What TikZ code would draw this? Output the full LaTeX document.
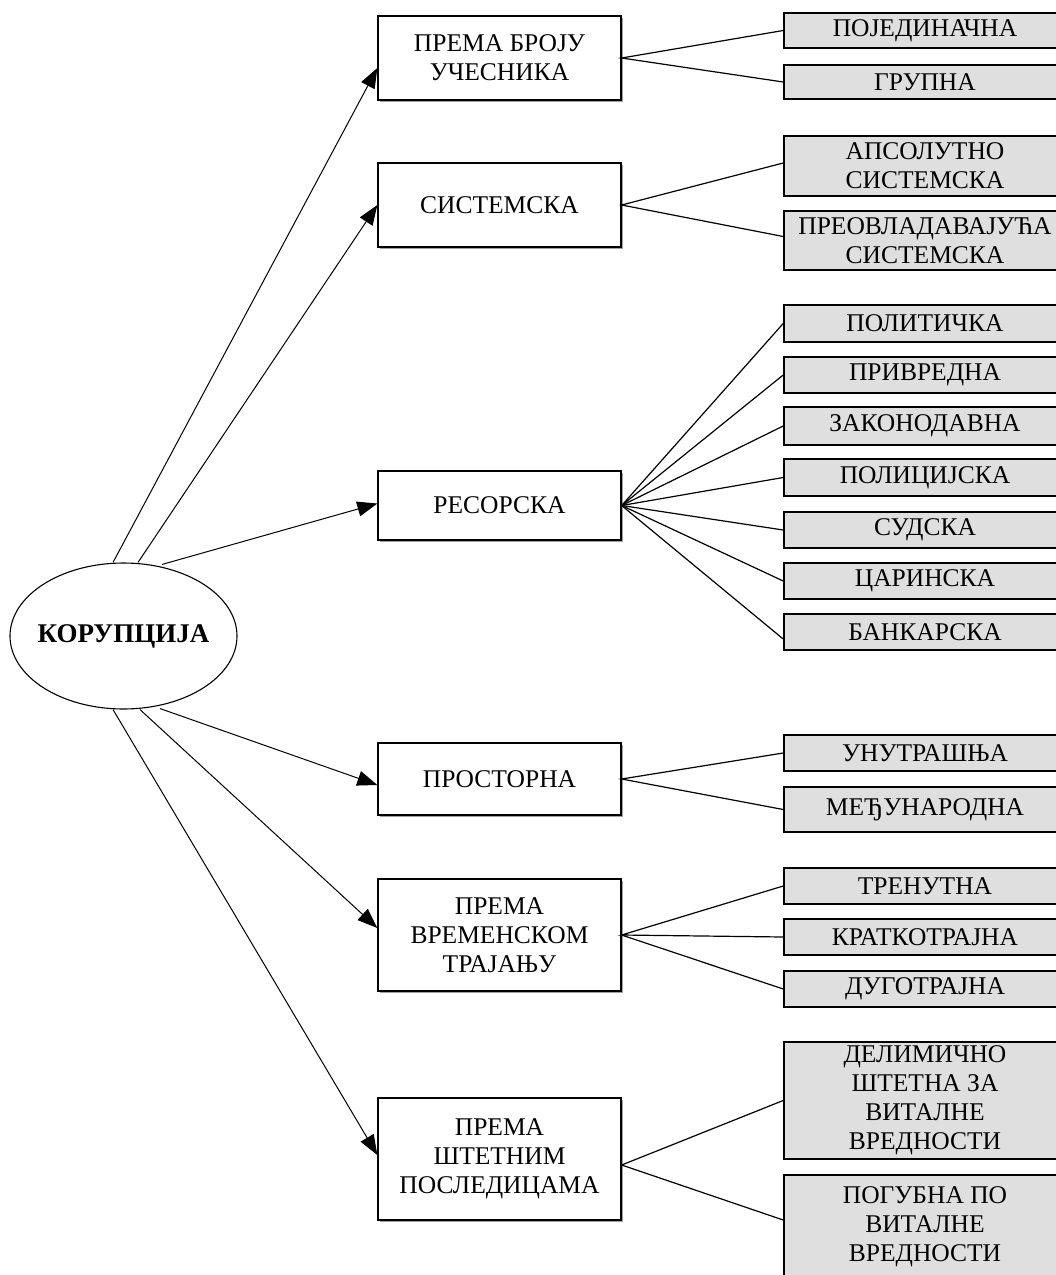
\documentclass[tikz,border=0pt]{standalone}
\usepackage{fontspec}
\setmainfont{Liberation Serif}
\usetikzlibrary{arrows.meta,shapes.geometric,shadows}
\definecolor{boxgray}{RGB}{223,223,223}
\definecolor{shadowgray}{RGB}{160,160,160}
\tikzset{
  midbox/.style={draw, line width=1.3pt, fill=white, minimum width=243pt, inner sep=2pt,
    align=center, font=\fontsize{25.5}{29}\selectfont,
    drop shadow={shadow xshift=1.6pt, shadow yshift=-1.6pt, fill=shadowgray, opacity=1}},
  subbox/.style={draw, line width=1.6pt, fill=boxgray, minimum width=282pt, inner sep=2pt,
    align=center, font=\fontsize{25.5}{29}\selectfont},
  conn/.style={line width=1.2pt},
  arr/.style={line width=1pt, -{Triangle[length=20pt,width=15pt]}},
}
\begin{document}
\begin{tikzpicture}[x=1pt,y=-1pt]
\useasboundingbox (0,0) rectangle (1056,1275);
\clip (0,0) rectangle (1056,1275);

% central ellipse
\node[draw, ellipse, line width=1.1pt, minimum width=227pt, minimum height=146pt,
  inner xsep=-8pt, inner ysep=0pt,
  font=\bfseries\fontsize{27}{32}\selectfont] (kor) at (123.5,636) {КОРУПЦИЈА};

% middle boxes
\node[midbox, minimum height=84pt]  (m1) at (499.5,58)   {ПРЕМА БРОЈУ\\УЧЕСНИКА};
\node[midbox, minimum height=84pt]  (m2) at (499.5,205)  {СИСТЕМСКА};
\node[midbox, minimum height=69pt]  (m3) at (499.5,505.5){РЕСОРСКА};
\node[midbox, minimum height=72pt]  (m4) at (499.5,779)  {ПРОСТОРНА};
\node[midbox, minimum height=112pt] (m5) at (499.5,935)  {ПРЕМА\\ВРЕМЕНСКОМ\\ТРАЈАЊУ};
\node[midbox, minimum height=122pt] (m6) at (499.5,1159) {ПРЕМА\\ШТЕТНИМ\\ПОСЛЕДИЦАМА};

% right boxes
\node[subbox, minimum height=35pt]  (r1)  at (925,30.5)  {ПОЈЕДИНАЧНА};
\node[subbox, minimum height=34pt]  (r2)  at (925,82)    {ГРУПНА};
\node[subbox, minimum height=60pt]  (r3)  at (925,166)   {АПСОЛУТНО\\СИСТЕМСКА};
\node[subbox, minimum height=59pt]  (r4)  at (925,240.5) {ПРЕОВЛАДАВАЈУЋА\\СИСТЕМСКА};
\node[subbox, minimum height=37pt]  (r5)  at (925,323.5) {ПОЛИТИЧКА};
\node[subbox, minimum height=36pt]  (r6)  at (925,375)   {ПРИВРЕДНА};
\node[subbox, minimum height=38pt]  (r7)  at (925,426)   {ЗАКОНОДАВНА};
\node[subbox, minimum height=37pt]  (r8)  at (925,477.5) {ПОЛИЦИЈСКА};
\node[subbox, minimum height=36pt]  (r9)  at (925,530)   {СУДСКА};
\node[subbox, minimum height=36pt]  (r10) at (925,581)   {ЦАРИНСКА};
\node[subbox, minimum height=36pt]  (r11) at (925,632)   {БАНКАРСКА};
\node[subbox, minimum height=36pt]  (r12) at (925,753)   {УНУТРАШЊА};
\node[subbox, minimum height=45pt]  (r13) at (925,809.5) {МЕЂУНАРОДНА};
\node[subbox, minimum height=36pt]  (r14) at (925,886)   {ТРЕНУТНА};
\node[subbox, minimum height=36pt]  (r15) at (925,937)   {КРАТКОТРАЈНА};
\node[subbox, minimum height=36pt]  (r16) at (925,989)   {ДУГОТРАЈНА};
\node[subbox, minimum height=117pt] (r17) at (925,1100.5){ДЕЛИМИЧНО\\ШТЕТНА ЗА\\ВИТАЛНЕ\\ВРЕДНОСТИ};
\node[subbox, minimum height=104pt] (r18) at (925,1227)  {ПОГУБНА ПО\\ВИТАЛНЕ\\ВРЕДНОСТИ};

% start points on the ellipse
\coordinate (t1) at ([xshift=-10.5pt]kor.north);
\coordinate (t2) at ([xshift=14.5pt]kor.north);
\coordinate (t3) at ([xshift=38.5pt,yshift=-2pt]kor.north);
\coordinate (b1) at ([xshift=-10.5pt]kor.south);
\coordinate (b2) at ([xshift=16.5pt]kor.south);
\coordinate (b3) at ([xshift=36.5pt,yshift=1pt]kor.south);

% arrows from the ellipse
\draw[arr] (t1) -- ([yshift=-10pt]m1.west);
\draw[arr] (t2) -- (m2.west);
\draw[arr] (t3) -- ([yshift=2pt]m3.west);
\draw[arr] (b3) -- ([yshift=-6pt]m4.west);
\draw[arr] (b2) -- ([yshift=7pt]m5.west);
\draw[arr] (b1) -- ([yshift=4pt]m6.west);

% connectors to sub-boxes
\draw[conn] (r1.west) -- (m1.east) -- (r2.west);
\draw[conn] ([yshift=3pt]r3.west) -- (m2.east) -- ([yshift=4pt]r4.west);
\foreach \r in {r5,r6,r7,r8,r9,r10} \draw[conn] (m3.east) -- (\r.west);
\draw[conn] (m3.east) -- ([yshift=-7pt]r11.west);
\draw[conn] (r12.west) -- (m4.east) -- (r13.west);
\draw[conn] (r14.west) -- (m5.east) -- (r15.west);
\draw[conn] (m5.east) -- (r16.west);
\draw[conn] (r17.west) -- ([yshift=-6pt]m6.east) -- ([yshift=7pt]r18.west);
\end{tikzpicture}
\end{document}
